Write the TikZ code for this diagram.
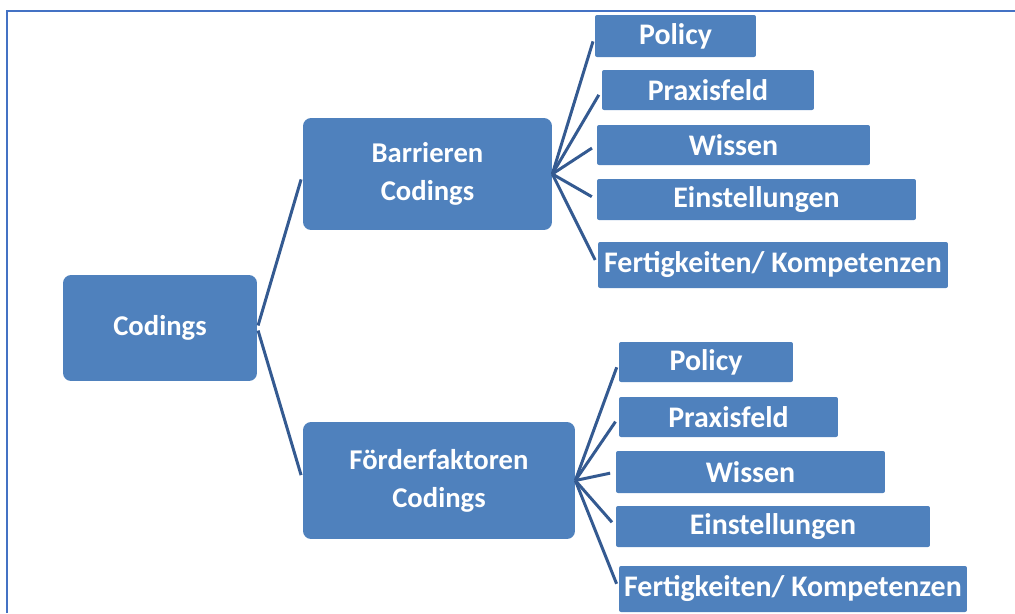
\documentclass[tikz,border=0pt]{standalone}
\usepackage{fontspec}
\setmainfont{Carlito}
\usetikzlibrary{positioning}
\definecolor{boxblue}{RGB}{79,129,189}
\definecolor{linkblue}{RGB}{52,90,145}
\definecolor{frameblue}{RGB}{68,114,196}

\begin{document}
\begin{tikzpicture}[
    x=0.02cm, y=-0.02cm,
    group/.style={rectangle, rounded corners=0.16cm, fill=boxblue, text=white, inner sep=0pt,
      font=\fontsize{16.3}{21.5}\selectfont\bfseries, align=center},
    leaf/.style={rectangle, rounded corners=0.04cm, fill=boxblue, text=white, inner sep=0pt,
      font=\fontsize{17}{19}\selectfont\bfseries, align=center},
    link/.style={draw=linkblue, line width=1.7pt, shorten >=3.2pt},
    frame/.style={draw=frameblue, line width=1.2pt}
]
    \useasboundingbox (0,0) rectangle (1015,613);
    \draw[frame] (7,613) -- (7,11) -- (1015,11);

    % Root
    \node[group, minimum width=3.88cm, minimum height=2.12cm] (root) at (160,328) {Codings};

    % Middle level
    \node[group, minimum width=4.98cm, minimum height=2.24cm] (barr) at (427.5,174) {Barrieren\\Codings};
    \node[group, minimum width=5.44cm, minimum height=2.34cm] (foerd) at (439,480.5) {Förderfaktoren\\Codings};

    % Leaves: Barrieren
    \node[leaf, minimum width=3.22cm, minimum height=0.84cm] (bpol) at (675.5,36) {Policy};
    \node[leaf, minimum width=4.24cm, minimum height=0.80cm] (bprax) at (708,90) {Praxisfeld};
    \node[leaf, minimum width=5.46cm, minimum height=0.80cm] (bwiss) at (733.5,145) {Wissen};
    \node[leaf, minimum width=6.38cm, minimum height=0.82cm] (beinst) at (756.5,199.5) {Einstellungen};
    \node[leaf, minimum width=7.00cm, minimum height=0.92cm] (bfert) at (773,265) {Fertigkeiten/ Kompetenzen};

    % Leaves: Förderfaktoren
    \node[leaf, minimum width=3.48cm, minimum height=0.80cm] (fpol) at (706,362) {Policy};
    \node[leaf, minimum width=4.38cm, minimum height=0.80cm] (fprax) at (728.5,417) {Praxisfeld};
    \node[leaf, minimum width=5.38cm, minimum height=0.84cm] (fwiss) at (750.5,472) {Wissen};
    \node[leaf, minimum width=6.28cm, minimum height=0.82cm] (feinst) at (773,526.5) {Einstellungen};
    \node[leaf, minimum width=6.96cm, minimum height=0.92cm] (ffert) at (793,589) {Fertigkeiten/ Kompetenzen};

    % Root to groups
    \draw[link, shorten <=1.5pt] (root.east) -- (barr.west);
    \draw[link, shorten <=1.5pt] (root.east) -- (foerd.west);

    % Fans
    \foreach \leafname in {bpol, bprax, bwiss, beinst, bfert}
        \draw[link] (barr.east) -- (\leafname.west);
    \foreach \leafname in {fpol, fprax, fwiss, feinst, ffert}
        \draw[link] (foerd.east) -- (\leafname.west);

\end{tikzpicture}
\end{document}
